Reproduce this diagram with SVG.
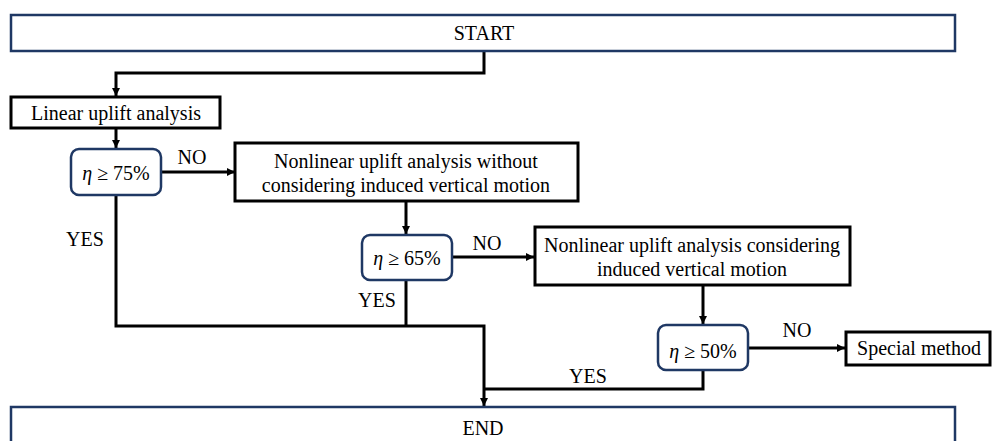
<svg xmlns="http://www.w3.org/2000/svg" width="992" height="441" viewBox="0 0 992 441">
<style>
.term{fill:#fff;stroke:#1f3864;stroke-width:2.5}
.proc{fill:#fff;stroke:#000;stroke-width:3}
.dec{fill:#fff;stroke:#1f3864;stroke-width:2.5}
.t{font-family:"Liberation Serif","Times New Roman",Times,serif;font-size:20px;fill:#000;text-anchor:middle}
.ln{fill:none;stroke:#000;stroke-width:3}
</style>
<defs>
<marker id="ah" markerWidth="8" markerHeight="8" viewBox="0 0 8 8" refX="8" refY="4" orient="auto" markerUnits="userSpaceOnUse">
<path d="M0,0 L8,4 L0,8 z" fill="#000"/>
</marker>
</defs>
<g id="connectors" font-family="Liberation Serif, Times New Roman, serif">
<path class="ln" d="M484,52 V73 H116 V96" marker-end="url(#ah)"/>
<path class="ln" d="M116,128 V148" marker-end="url(#ah)"/>
<path class="ln" d="M161,172 H235" marker-end="url(#ah)"/>
<path class="ln" d="M406,201 V234" marker-end="url(#ah)"/>
<path class="ln" d="M452,257 H534" marker-end="url(#ah)"/>
<path class="ln" d="M703,285 V324" marker-end="url(#ah)"/>
<path class="ln" d="M748,348 H845" marker-end="url(#ah)"/>
<path class="ln" d="M116,195 V326 H484 V406" marker-end="url(#ah)"/>
<path class="ln" d="M406,280 V326"/>
<path class="ln" d="M703,370 V389 H484"/>
<text class="t" x="192" y="164">NO</text>
<text class="t" x="85" y="246">YES</text>
<text class="t" x="487" y="250">NO</text>
<text class="t" x="377" y="307">YES</text>
<text class="t" x="797" y="337">NO</text>
<text class="t" x="588" y="383">YES</text>
</g>
<g id="start" font-family="Liberation Serif, Times New Roman, serif">
<rect class="term" x="11" y="15" width="944" height="36"/>
<text class="t" x="484" y="40">START</text>
</g>
<g id="linear" font-family="Liberation Serif, Times New Roman, serif">
<rect class="proc" x="11" y="97" width="209" height="31"/>
<text class="t" x="116" y="120">Linear uplift analysis</text>
</g>
<g id="d75" font-family="Liberation Serif, Times New Roman, serif">
<rect class="dec" x="71" y="149" width="90" height="46" rx="8"/>
<text class="t" x="116" y="180"><tspan font-style="italic">η</tspan> ≥ 75%</text>
</g>
<g id="nl1" font-family="Liberation Serif, Times New Roman, serif">
<rect class="proc" x="235" y="143" width="343" height="58"/>
<text class="t" x="406" y="168">Nonlinear uplift analysis without</text>
<text class="t" x="406" y="192">considering induced vertical motion</text>
</g>
<g id="d65" font-family="Liberation Serif, Times New Roman, serif">
<rect class="dec" x="362" y="235" width="90" height="45" rx="8"/>
<text class="t" x="407" y="265"><tspan font-style="italic">η</tspan> ≥ 65%</text>
</g>
<g id="nl2" font-family="Liberation Serif, Times New Roman, serif">
<rect class="proc" x="535" y="227" width="315" height="58"/>
<text class="t" x="692" y="252">Nonlinear uplift analysis considering</text>
<text class="t" x="692" y="276">induced vertical motion</text>
</g>
<g id="d50" font-family="Liberation Serif, Times New Roman, serif">
<rect class="dec" x="658" y="325" width="90" height="45" rx="8"/>
<text class="t" x="703" y="358"><tspan font-style="italic">η</tspan> ≥ 50%</text>
</g>
<g id="special" font-family="Liberation Serif, Times New Roman, serif">
<rect class="proc" x="846" y="332" width="144" height="33"/>
<text class="t" x="919" y="355">Special method</text>
</g>
<g id="end" font-family="Liberation Serif, Times New Roman, serif">
<rect class="term" x="11" y="407" width="944" height="40"/>
<text class="t" x="483" y="435">END</text>
</g>
</svg>
